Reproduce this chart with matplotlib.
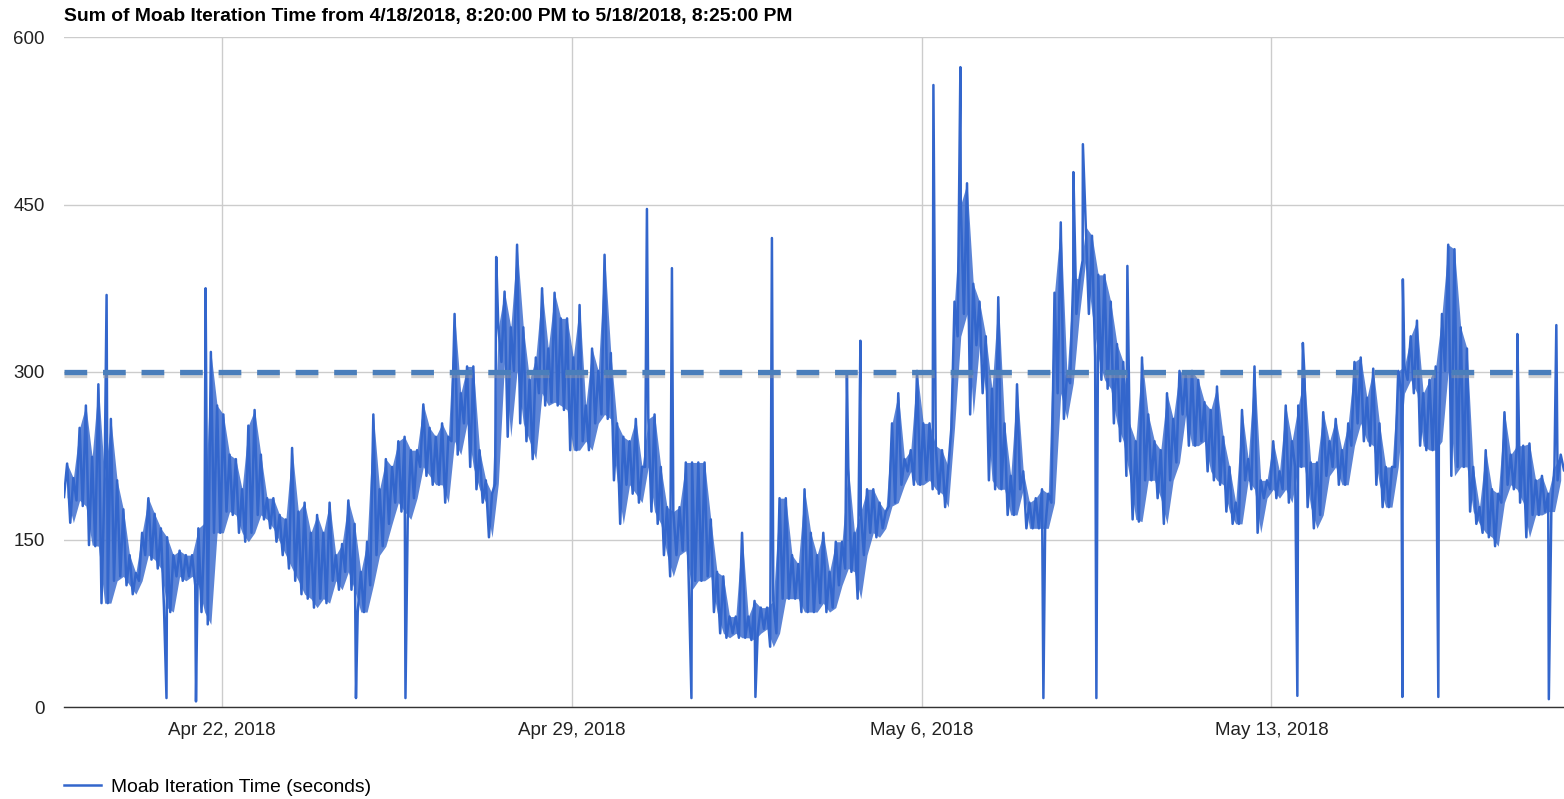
import matplotlib
matplotlib.use('Agg')
import matplotlib.pyplot as plt
import matplotlib.dates as mdates
from matplotlib.lines import Line2D
import numpy as np
import pandas as pd

plt.rcParams['font.family'] = ['Liberation Sans', 'DejaVu Sans']

title = 'Sum of Moab Iteration Time from 4/18/2018, 8:20:00 PM to 5/18/2018, 8:25:00 PM'
series_name = 'Moab Iteration Time (seconds)'
start = pd.Timestamp('2018-04-18 20:20')
end = pd.Timestamp('2018-05-18 20:25')
threshold = 300

# band, one low/high pair per 3 hour slot
slot_lo = [188, 165, 185, 180, 145, 144, 93, 93, 113, 117, 109, 101, 113, 136, 132, 124, 89, 85, 117, 113,
           117, 109, 85, 74, 156, 156, 175, 172, 156, 148, 156, 172, 168, 160, 148, 136, 124, 113, 101, 97,
           89, 97, 93, 113, 105, 121, 105, 85, 85, 109, 136, 144, 164, 183, 175, 168, 187, 215, 207, 199,
           199, 183, 238, 226, 254, 215, 195, 183, 152, 200, 309, 242, 301, 254, 238, 222, 281, 270, 273, 270,
           266, 230, 230, 238, 230, 254, 262, 258, 203, 164, 199, 191, 183, 215, 175, 164, 136, 117, 136, 140,
           105, 113, 113, 117, 85, 66, 62, 66, 62, 62, 60, 66, 70, 54, 66, 97, 97, 97, 85, 85,
           85, 93, 85, 89, 109, 124, 121, 97, 136, 156, 152, 160, 180, 183, 199, 211, 199, 199, 203, 195,
           191, 179, 250, 332, 352, 262, 324, 281, 203, 195, 195, 172, 172, 195, 160, 160, 160, 160, 183, 281,
           258, 290, 352, 400, 352, 313, 293, 285, 254, 238, 207, 168, 166, 203, 203, 187, 164, 203, 219, 262,
           234, 234, 238, 211, 203, 199, 175, 164, 164, 203, 195, 156, 187, 195, 187, 195, 183, 215, 215, 179,
           160, 172, 207, 215, 199, 199, 234, 254, 238, 234, 199, 179, 179, 215, 281, 293, 281, 234, 230, 230,
           238, 301, 207, 215, 215, 175, 164, 156, 152, 144, 183, 199, 195, 183, 152, 172, 172, 175, 175, 203]
slot_hi = [218, 205, 250, 270, 224, 289, 205, 258, 203, 177, 136, 120, 156, 187, 173, 160, 152, 136, 140, 136,
           136, 160, 165, 318, 270, 262, 226, 222, 195, 252, 266, 226, 187, 187, 172, 168, 232, 175, 183, 156,
           172, 156, 183, 136, 146, 185, 164, 121, 148, 262, 195, 222, 215, 238, 242, 230, 230, 271, 250, 242,
           254, 242, 352, 281, 305, 305, 230, 203, 191, 340, 372, 340, 414, 340, 293, 313, 375, 321, 371, 348,
           348, 313, 360, 270, 321, 301, 405, 317, 254, 242, 238, 258, 215, 258, 262, 215, 179, 175, 179, 219,
           219, 219, 219, 168, 121, 117, 81, 81, 156, 81, 95, 89, 89, 95, 187, 187, 136, 128, 195, 156,
           136, 156, 121, 148, 148, 215, 156, 175, 195, 195, 183, 175, 254, 281, 222, 230, 301, 254, 254, 234,
           230, 215, 363, 450, 469, 379, 363, 332, 285, 367, 254, 207, 289, 211, 183, 187, 195, 191, 371, 434,
           297, 385, 383, 430, 422, 387, 387, 363, 325, 309, 254, 238, 313, 262, 238, 230, 281, 258, 301, 297,
           301, 293, 273, 266, 287, 242, 215, 183, 266, 222, 305, 203, 203, 238, 211, 270, 238, 270, 297, 219,
           219, 264, 238, 258, 230, 254, 309, 313, 277, 303, 254, 215, 215, 301, 305, 332, 346, 281, 293, 305,
           352, 414, 410, 340, 321, 215, 179, 230, 195, 191, 264, 226, 234, 234, 236, 203, 207, 191, 215, 226]
last_value = 212

# single-sample spikes (days after start)
spike_days = [0.852, 2.832, 8.645, 11.66, 12.16, 14.16, 15.66, 15.93, 17.39, 17.93,
              20.19, 20.38, 21.27, 24.78, 26.78, 29.07, 29.85]
spike_vals = [369, 375, 403, 446, 393, 420, 300, 328, 557, 573,
              479, 504, 395, 326, 383, 334, 342]
dip_days = [2.05, 2.64, 5.84, 6.83, 12.55, 13.83, 19.59, 20.65, 24.67, 26.77, 27.49, 29.70]
dip_vals = [8, 5, 8, 8, 8, 9, 8, 8, 10, 9, 9, 7]

tick_dates = ['2018-04-22', '2018-04-29', '2018-05-06', '2018-05-13']
y_ticks = [0, 150, 300, 450, 600]

# build the series
slot = pd.Timedelta(hours=3)
t_lo = [start + k * slot for k in range(len(slot_lo))]
t_hi = [start + k * slot + slot / 2 for k in range(len(slot_hi))]
times = t_lo + t_hi + [end]
vals = slot_lo + slot_hi + [last_value]
times += [start + pd.to_timedelta(d, unit='D') for d in spike_days + dip_days]
vals += spike_vals + dip_vals
df = pd.DataFrame({'t': times, 'v': vals}).sort_values('t')

fig = plt.figure(figsize=(15.64, 7.99), dpi=100)
ax = fig.add_axes([64 / 1564, 1 - 707 / 799, 1500 / 1564, 670 / 799])

blue = '#3366cc'
# dense noise band, then the sampled line on top
ax.fill_between(t_hi, slot_lo, slot_hi, color=blue, alpha=0.8, lw=0, zorder=2)
ax.plot(df['t'], df['v'], color=blue, lw=1.8, zorder=3)

# 300 s reference line with a soft shadow
ax.axhline(threshold - 2.5, color='#9a9a9a', alpha=0.45, lw=3.8, dashes=(4.3, 3.0), zorder=4)
ax.axhline(threshold, color='#4a7ebb', lw=3.8, dashes=(4.3, 3.0), zorder=5)

ax.set_xlim(start, end)
ax.set_ylim(0, 600)
ax.set_yticks(y_ticks)
ax.set_xticks([pd.Timestamp(d) for d in tick_dates])
ax.xaxis.set_major_formatter(mdates.DateFormatter('%b %-d, %Y'))
ax.grid(True, color='#cccccc', lw=1)
ax.set_axisbelow(True)
ax.tick_params(length=0, labelsize=13.5, colors='#222222')
ax.tick_params(axis='y', pad=13.7)
ax.tick_params(axis='x', pad=11)
for s in ['top', 'left', 'right']:
    ax.spines[s].set_visible(False)
ax.spines['bottom'].set_color('#333333')
ax.spines['bottom'].set_linewidth(1)

fig.text(64 / 1564, 1 - 16 / 799, title, fontsize=13.9, fontweight='bold', va='center', ha='left')

handle = Line2D([], [], color=blue, lw=1.8)
fig.legend([handle], [series_name], loc='center left', bbox_to_anchor=(64 / 1564, 1 - 787 / 799),
           frameon=False, fontsize=13.9, handlelength=1.9, handletextpad=0.55, borderpad=0, borderaxespad=0)

fig.savefig('out.png', dpi=100)
